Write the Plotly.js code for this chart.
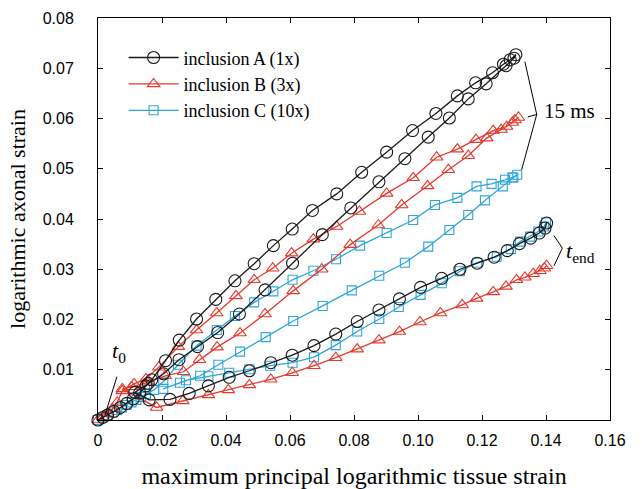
<!DOCTYPE html>
<html>
<head>
<meta charset="utf-8">
<script src="https://cdn.plot.ly/plotly-3.0.1.min.js"></script>
<style>
  html, body { margin: 0; padding: 0; background: #fff; }
  #chart { width: 643px; height: 489px; }
</style>
</head>
<body>
<div id="chart"></div>
<script>
// ---- Data ----
// inclusion A (1x): loading to 15 ms, unloading, reloading to t_end
const aX = [0, 0.0015, 0.003, 0.005, 0.007, 0.009, 0.011, 0.013, 0.015, 0.0168, 0.0211, 0.0254, 0.0308, 0.0368, 0.0428, 0.0488, 0.0548, 0.0607, 0.067, 0.0746, 0.0824, 0.0902, 0.0983, 0.1056, 0.1123, 0.118, 0.1233, 0.1267, 0.1288, 0.1306,
            0.1300, 0.1275, 0.1213, 0.1157, 0.1098, 0.1032, 0.0959, 0.0878, 0.079, 0.0701, 0.0608, 0.0522, 0.0442, 0.0374, 0.0311, 0.0253, 0.0205, 0.0157, 0.0115,
            0.016, 0.0225, 0.0285, 0.0345, 0.041, 0.0473, 0.054, 0.0607, 0.0675, 0.0743, 0.081, 0.0878, 0.0942, 0.1008, 0.1074, 0.1131, 0.1185, 0.1238, 0.1279, 0.1317, 0.1352, 0.1379, 0.1397, 0.1402];
const aY = [0, 0.0005, 0.001, 0.0017, 0.0025, 0.0033, 0.0042, 0.0054, 0.0068, 0.008, 0.0118, 0.0159, 0.0201, 0.024, 0.0277, 0.0311, 0.0347, 0.038, 0.0417, 0.045, 0.0493, 0.0533, 0.0576, 0.061, 0.0645, 0.0671, 0.0691, 0.0708, 0.0717, 0.0727,
            0.0720, 0.0705, 0.0669, 0.0639, 0.0601, 0.0563, 0.052, 0.0474, 0.0422, 0.0369, 0.0312, 0.0259, 0.0211, 0.0174, 0.0146, 0.012, 0.0092, 0.0073, 0.0055,
            0.0040, 0.0041, 0.0053, 0.0068, 0.0085, 0.0098, 0.0114, 0.0129, 0.0148, 0.0171, 0.0196, 0.0219, 0.0241, 0.0264, 0.0282, 0.030, 0.0312, 0.0324, 0.0337, 0.0351, 0.0362, 0.0372, 0.0382, 0.0392];

// inclusion B (3x)
const bX = [0, 0.0015, 0.003, 0.0045, 0.006, 0.0076, 0.0113, 0.015, 0.019, 0.0251, 0.0308, 0.0371, 0.0431, 0.0488, 0.0546, 0.0605, 0.0673, 0.0746, 0.0817, 0.0902, 0.0985, 0.1058, 0.1123, 0.1181, 0.1235, 0.1277, 0.1303, 0.1314,
            0.1295, 0.126, 0.1215, 0.1157, 0.1095, 0.103, 0.0949, 0.0876, 0.0788, 0.0699, 0.061, 0.0522, 0.0444, 0.0372, 0.0317, 0.0267, 0.021, 0.0155, 0.0105, 0.0076,
            0.0183, 0.0265, 0.0345, 0.0407, 0.0473, 0.054, 0.0607, 0.0675, 0.0743, 0.081, 0.0878, 0.0942, 0.1006, 0.107, 0.1138, 0.1183, 0.1235, 0.1275, 0.1308, 0.1334, 0.136, 0.1381, 0.1395, 0.1402];
const bY = [0, 0.0006, 0.0013, 0.0022, 0.0035, 0.0058, 0.0072, 0.0082, 0.0105, 0.0146, 0.0179, 0.0213, 0.0247, 0.0279, 0.0302, 0.0332, 0.036, 0.0385, 0.0415, 0.0451, 0.0482, 0.0523, 0.0539, 0.0558, 0.0576, 0.0584, 0.0597, 0.0602,
            0.0592, 0.0578, 0.0561, 0.0526, 0.0498, 0.0466, 0.0428, 0.0388, 0.0349, 0.030, 0.0257, 0.0211, 0.0173, 0.0145, 0.012, 0.0096, 0.0088, 0.0075, 0.0066, 0.0062,
            0.0025, 0.0038, 0.005, 0.006, 0.007, 0.0081, 0.0094, 0.0108, 0.0124, 0.0141, 0.0159, 0.0176, 0.0195, 0.0213, 0.0229, 0.0242, 0.0255, 0.0266, 0.0279, 0.0284, 0.0291, 0.0297, 0.0302, 0.0307];

// inclusion C (10x)
const cX = [0, 0.0015, 0.003, 0.0045, 0.006, 0.0075, 0.009, 0.0105, 0.012, 0.0135, 0.015, 0.0175, 0.0204, 0.025, 0.0308, 0.0371, 0.0428, 0.0488, 0.0548, 0.0608, 0.0673, 0.0744, 0.0819, 0.0902, 0.0985, 0.1053, 0.1123, 0.1183, 0.123, 0.1272, 0.1295, 0.131,
            0.1298, 0.1265, 0.1209, 0.1157, 0.1098, 0.1032, 0.0959, 0.0879, 0.0793, 0.0702, 0.061, 0.0524, 0.0444, 0.0376, 0.0319, 0.0256, 0.0204,
            0.0275, 0.0345, 0.041, 0.0473, 0.0538, 0.0608, 0.0675, 0.0743, 0.081, 0.0879, 0.094, 0.1008, 0.1074, 0.1131, 0.1185, 0.1246, 0.129, 0.1319, 0.135, 0.1376, 0.1394, 0.14];
const cY = [0, 0.0005, 0.001, 0.0015, 0.002, 0.0025, 0.003, 0.0035, 0.004, 0.0046, 0.0052, 0.006, 0.0076, 0.011, 0.0148, 0.0179, 0.0207, 0.0234, 0.0256, 0.0279, 0.0297, 0.032, 0.0347, 0.0372, 0.0398, 0.0428, 0.0442, 0.0465, 0.047, 0.0478, 0.0483, 0.0488,
            0.0482, 0.0465, 0.0437, 0.0408, 0.0378, 0.0345, 0.0313, 0.0287, 0.0258, 0.0227, 0.0197, 0.0165, 0.0136, 0.011, 0.0088, 0.0074, 0.0062,
            0.0079, 0.0087, 0.0094, 0.0101, 0.0108, 0.0114, 0.0125, 0.0149, 0.0176, 0.0201, 0.0225, 0.0249, 0.0272, 0.0296, 0.0313, 0.0325, 0.034, 0.0355, 0.0365, 0.0375, 0.0385, 0.0393];

const seriesNames = ["inclusion A (1x)", "inclusion B (3x)", "inclusion C (10x)"];
const xTickVals = [0, 0.02, 0.04, 0.06, 0.08, 0.10, 0.12, 0.14, 0.16];
const xTickText = ["0", "0.02", "0.04", "0.06", "0.08", "0.10", "0.12", "0.14", "0.16"];
const yTickVals = [0.01, 0.02, 0.03, 0.04, 0.05, 0.06, 0.07, 0.08];
const yTickText = ["0.01", "0.02", "0.03", "0.04", "0.05", "0.06", "0.07", "0.08"];

// ---- Styling ----
const colA = "#1a1a1a", colB = "#e8382b", colC = "#2ea6da";
const serif = "Liberation Serif, Times New Roman, serif";
const sans = "Liberation Sans, Arial, Helvetica, sans-serif";

function trace(x, y, name, color, symbol, size) {
  return {
    x: x, y: y, name: name, type: "scatter", mode: "lines+markers",
    line: { color: color, width: 1.3 },
    marker: { symbol: symbol, size: size, color: color, line: { color: color, width: 1.1 } },
    cliponaxis: false
  };
}

const data = [
  trace(cX, cY, seriesNames[2], colC, "square-open", 9),
  trace(bX, bY, seriesNames[1], colB, "triangle-up-open", 11),
  trace(aX, aY, seriesNames[0], colA, "circle-open", 12)
];

const axisCommon = {
  showgrid: false, zeroline: false, showline: true, linecolor: "#000", linewidth: 1,
  mirror: "ticks", ticks: "inside", ticklen: 5, tickwidth: 1, tickcolor: "#000",
  tickfont: { family: sans, size: 16, color: "#000" }
};

const layout = {
  width: 643, height: 489,
  margin: { l: 98, r: 33, t: 18, b: 69 },
  paper_bgcolor: "#fff", plot_bgcolor: "#fff",
  showlegend: true,
  legend: {
    x: 0.05, y: 0.947, xanchor: "left", yanchor: "top",
    bgcolor: "rgba(0,0,0,0)", borderwidth: 0,
    font: { family: serif, size: 18, color: "#000" },
    traceorder: "reversed", itemwidth: 50, tracegroupgap: 0
  },
  xaxis: Object.assign({}, axisCommon, {
    range: [0, 0.16], tickvals: xTickVals, ticktext: xTickText,
    ticklabelstandoff: 6,
    title: { text: "maximum principal logarithmic tissue strain", font: { family: serif, size: 24, color: "#000" }, standoff: 18 }
  }),
  yaxis: Object.assign({}, axisCommon, {
    range: [0, 0.08], tickvals: yTickVals, ticktext: yTickText,
    ticklabelstandoff: 20,
    title: { text: "logarithmic axonal strain", font: { family: serif, size: 22, color: "#000" }, standoff: 10 }
  }),
  shapes: [
    { type: "line", xref: "x", yref: "y", x0: 0.0022, y0: 0.001, x1: 0.0059, y1: 0.0086, line: { color: "#000", width: 1 } },
    { type: "line", xref: "x", yref: "y", x0: 0.1334, y0: 0.0713, x1: 0.1371, y1: 0.0608, line: { color: "#000", width: 1 } },
    { type: "line", xref: "x", yref: "y", x0: 0.1343, y0: 0.0603, x1: 0.1371, y1: 0.0608, line: { color: "#000", width: 1 } },
    { type: "line", xref: "x", yref: "y", x0: 0.1324, y0: 0.0498, x1: 0.1371, y1: 0.0608, line: { color: "#000", width: 1 } },
    { type: "line", xref: "x", yref: "y", x0: 0.1425, y0: 0.0367, x1: 0.1451, y1: 0.0342, line: { color: "#000", width: 1 } },
    { type: "line", xref: "x", yref: "y", x0: 0.1425, y0: 0.0307, x1: 0.1451, y1: 0.0342, line: { color: "#000", width: 1 } }
  ],
  annotations: [
    { xref: "x", yref: "y", x: 0.0038, y: 0.0135, xanchor: "left", yanchor: "middle", showarrow: false,
      text: "<i>t</i><sub>0</sub>", font: { family: serif, size: 22, color: "#000" } },
    { xref: "x", yref: "y", x: 0.1388, y: 0.0614, xanchor: "left", yanchor: "middle", showarrow: false,
      text: "15 ms", font: { family: serif, size: 21, color: "#000" } },
    { xref: "x", yref: "y", x: 0.1456, y: 0.0335, xanchor: "left", yanchor: "middle", showarrow: false,
      text: "<i>t</i><sub>end</sub>", font: { family: serif, size: 22, color: "#000" } }
  ]
};

Plotly.newPlot("chart", data, layout, { staticPlot: true, displayModeBar: false });
</script>
</body>
</html>
